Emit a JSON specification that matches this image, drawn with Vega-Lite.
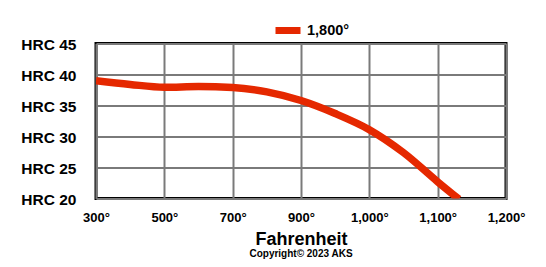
{
  "$schema": "https://vega.github.io/schema/vega-lite/v6.json",
  "width": 410,
  "height": 155,
  "autosize": {"type": "none"},
  "padding": {"left": 96, "top": 43.5, "right": 40, "bottom": 68.5},
  "background": "white",
  "config": {
    "view": {"stroke": "black", "strokeWidth": 3},
    "axis": {"grid": true, "gridColor": "#7a7a7a", "gridWidth": 2, "gridOpacity": 1, "domain": false, "ticks": false, "tickSize": 0}
  },
  "title": {
    "text": "Copyright© 2023 AKS",
    "orient": "bottom",
    "anchor": "middle",
    "font": "Liberation Sans",
    "fontSize": 10,
    "fontWeight": "bold",
    "color": "black",
    "offset": 0
  },
  "data": {
    "values": [
      {"temp": 0, "hrc": 39.0, "series": "1,800°"},
      {"temp": 0.5, "hrc": 38.4, "series": "1,800°"},
      {"temp": 1, "hrc": 37.95, "series": "1,800°"},
      {"temp": 1.5, "hrc": 38.05, "series": "1,800°"},
      {"temp": 2, "hrc": 37.9, "series": "1,800°"},
      {"temp": 2.5, "hrc": 37.2, "series": "1,800°"},
      {"temp": 3, "hrc": 35.8, "series": "1,800°"},
      {"temp": 3.5, "hrc": 33.7, "series": "1,800°"},
      {"temp": 4, "hrc": 31.1, "series": "1,800°"},
      {"temp": 4.5, "hrc": 27.4, "series": "1,800°"},
      {"temp": 5, "hrc": 22.7, "series": "1,800°"},
      {"temp": 5.31, "hrc": 19.9, "series": "1,800°"}
    ]
  },
  "mark": {"type": "line", "interpolate": "monotone", "strokeWidth": 7.5, "clip": true, "strokeCap": "butt"},
  "encoding": {
    "x": {
      "field": "temp",
      "type": "quantitative",
      "scale": {"domain": [0, 6], "nice": false, "zero": false},
      "axis": {
        "values": [0, 1, 2, 3, 4, 5, 6],
        "labelExpr": "['300°','500°','700°','900°','1,000°','1,100°','1,200°'][datum.value]",
        "labelFont": "Liberation Sans",
        "labelFontSize": 13,
        "labelFontWeight": "bold",
        "labelColor": "black",
        "labelPadding": 13,
        "labelFlush": false,
        "labelOverlap": false,
        "title": "Fahrenheit",
        "titleFont": "Liberation Sans",
        "titleFontSize": 18,
        "titleFontWeight": "bold",
        "titleColor": "black",
        "titleBaseline": "alphabetic",
        "titleY": 46
      }
    },
    "y": {
      "field": "hrc",
      "type": "quantitative",
      "scale": {"domain": [20, 45], "nice": false, "zero": false},
      "axis": {
        "values": [20, 25, 30, 35, 40, 45],
        "labelExpr": "'HRC ' + datum.value",
        "labelFont": "Liberation Sans",
        "labelFontSize": 15.5,
        "labelFontWeight": "bold",
        "labelColor": "black",
        "labelPadding": 20,
        "labelOffset": 1,
        "labelFlush": false,
        "labelOverlap": false,
        "title": null
      }
    },
    "color": {
      "field": "series",
      "type": "nominal",
      "scale": {"range": ["#e52800"]},
      "legend": {
        "title": null,
        "orient": "none",
        "legendX": 176,
        "legendY": -29,
        "symbolType": "stroke",
        "symbolSize": 625,
        "symbolStrokeWidth": 7,
        "labelFont": "Liberation Sans",
        "labelFontSize": 14.5,
        "labelFontWeight": "bold",
        "labelColor": "black",
        "labelOffset": 3,
        "padding": 0
      }
    }
  }
}
